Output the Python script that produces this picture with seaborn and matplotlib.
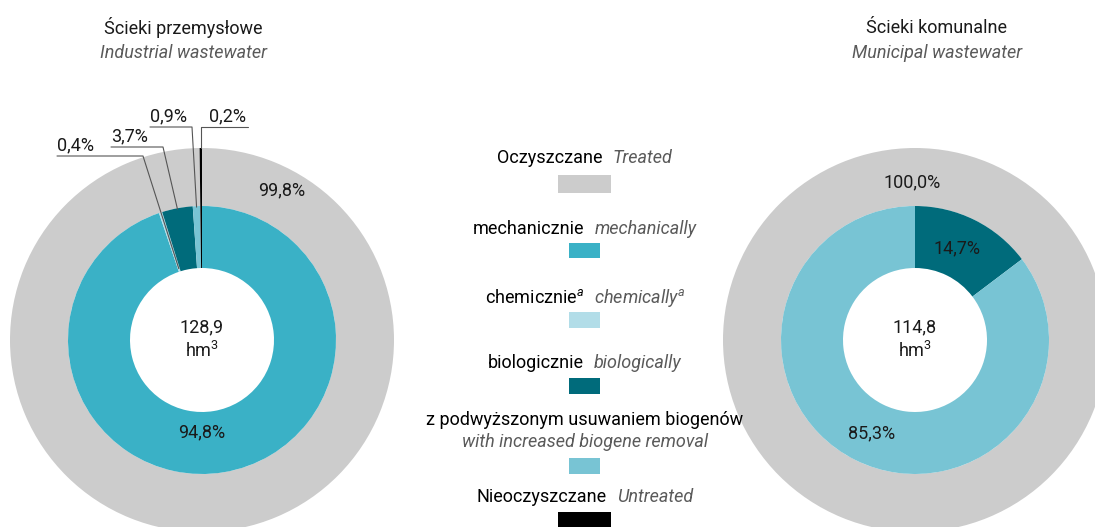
import numpy as np
import matplotlib
matplotlib.use("Agg")
import matplotlib.pyplot as plt
import seaborn as sns
from matplotlib.patches import Rectangle

sns.set_theme(style="white")
plt.rcParams["font.family"] = ["Roboto", "DejaVu Sans"]
plt.rcParams["mathtext.fontset"] = "custom"
plt.rcParams["mathtext.rm"] = "Roboto"
plt.rcParams["mathtext.it"] = "Roboto:italic"

# data
categories = ["mechanicznie", "chemicznie", "biologicznie", "z podwyższonym usuwaniem biogenów", "Nieoczyszczane"]
outer_labels = ["Oczyszczane", "Nieoczyszczane"]
industrial_outer = [99.8, 0.2]
industrial_inner = [94.8, 0.4, 3.7, 0.9, 0.2]
municipal_outer = [100.0, 0.0]
municipal_inner = [0.0, 0.0, 14.7, 85.3, 0.0]
industrial_total = "128,9"
municipal_total = "114,8"

GRAY = "#cccccc"
INNER_COLORS = ["#3ab1c6", "#b2dde8", "#006b7b", "#78c4d4", "#000000"]
OUTER_COLORS = [GRAY, "#000000"]
TXT = "#1a1a1a"
SUB = "#5a5a5a"
FS = 13

W, H = 1095, 527
fig = plt.figure(figsize=(W / 100, H / 100), dpi=100)

R_OUT = 192
R_MID = 134
R_IN = 72


def fmt(v):
    return f"{v:.1f}%".replace(".", ",")


def donut(cx, cy, outer, inner, total):
    ax = fig.add_axes([(cx - R_OUT) / W, (H - cy - R_OUT) / H, 2 * R_OUT / W, 2 * R_OUT / H])
    ow, _ = ax.pie(outer, radius=1, colors=OUTER_COLORS, startangle=90, counterclock=False,
                   wedgeprops=dict(width=(R_OUT - R_MID) / R_OUT, linewidth=0))
    iw, _ = ax.pie(inner, radius=R_MID / R_OUT, colors=INNER_COLORS, startangle=90, counterclock=False,
                   wedgeprops=dict(width=(R_MID - R_IN) / R_OUT, linewidth=0))
    ax.set_xlim(-1, 1)
    ax.set_ylim(-1, 1)
    ax.axis("off")
    for w in ow + iw:
        w.set_clip_on(False)
    ax.text(0, 0, f"{total}\nhm$^{{3}}$", ha="center", va="center", fontsize=FS, color=TXT, linespacing=1.3)
    return ax, ow, iw


def px(ax_cx, ax_cy, x, y):
    return (x - ax_cx) / R_OUT, (ax_cy - y) / R_OUT


def wedge_point(w, r):
    a = np.deg2rad((w.theta1 + w.theta2) / 2)
    return r / R_OUT * np.cos(a), r / R_OUT * np.sin(a)


# left donut
LCX, LCY = 202, 340
axL, owL, iwL = donut(LCX, LCY, industrial_outer, industrial_inner, industrial_total)
axL.text(*px(LCX, LCY, 282, 190), fmt(industrial_outer[0]), ha="center", va="center", fontsize=FS, color=TXT)
axL.text(*px(LCX, LCY, 202, 432), fmt(industrial_inner[0]), ha="center", va="center", fontsize=FS, color=TXT)

# leader labels: (wedge, end radius, value, label x-left, line y, line start x, elbow x)
leaders = [
    (iwL[1], 75, industrial_inner[1], 57, 156, 57, 143),
    (iwL[2], 133, industrial_inner[2], 111, 147, 111, 163),
    (iwL[3], 133, industrial_inner[3], 150, 127, 150, 192),
]
for w, r, val, tx, ly, x0, x1 in leaders:
    ex, ey = wedge_point(w, r)
    p0 = px(LCX, LCY, x0, ly)
    p1 = px(LCX, LCY, x1, ly)
    axL.plot([p0[0], p1[0], ex], [p0[1], p1[1], ey], color="#555555", lw=0.8, clip_on=False)
    axL.text(*px(LCX, LCY, tx, ly - 2), fmt(val), ha="left", va="bottom", fontsize=FS, color=TXT)

# untreated leader
ex, ey = wedge_point(owL[1], R_OUT)
p0 = px(LCX, LCY, 248, 127)
axL.plot([p0[0], ex, ex], [p0[1], p0[1], ey], color="#555555", lw=0.8, clip_on=False)
axL.text(*px(LCX, LCY, 209, 125), fmt(industrial_outer[1]), ha="left", va="bottom", fontsize=FS, color=TXT)

# right donut
RCX, RCY = 915, 340
axR, owR, iwR = donut(RCX, RCY, municipal_outer, municipal_inner, municipal_total)
axR.text(*px(RCX, RCY, 912, 182), fmt(municipal_outer[0]), ha="center", va="center", fontsize=FS, color=TXT)
axR.text(*px(RCX, RCY, 957, 248), fmt(municipal_inner[2]), ha="center", va="center", fontsize=FS, color=TXT)
axR.text(*px(RCX, RCY, 872, 433), fmt(municipal_inner[3]), ha="center", va="center", fontsize=FS, color=TXT)

# overlay in pixel coordinates for titles and legend
ov = fig.add_axes([0, 0, 1, 1], zorder=5)
ov.set_xlim(0, W)
ov.set_ylim(H, 0)
ov.axis("off")
ov.patch.set_alpha(0)

ov.text(183, 28, "Ścieki przemysłowe", ha="center", va="center", fontsize=FS, color=TXT)
ov.text(183, 53, "Industrial wastewater", ha="center", va="center", fontsize=FS, color=SUB, style="italic")
ov.text(937, 28, "Ścieki komunalne", ha="center", va="center", fontsize=FS, color=TXT)
ov.text(937, 53, "Municipal wastewater", ha="center", va="center", fontsize=FS, color=SUB, style="italic")

renderer = fig.canvas.get_renderer()
LEGX = 585


def pair(y, left, right, gap=10):
    t1 = ov.text(0, y, left, ha="left", va="center", fontsize=FS, color="#000000")
    t2 = ov.text(0, y, right, ha="left", va="center", fontsize=FS, color=SUB, style="italic")
    w1 = t1.get_window_extent(renderer).width
    w2 = t2.get_window_extent(renderer).width
    x0 = LEGX - (w1 + gap + w2) / 2
    t1.set_x(x0)
    t2.set_x(x0 + w1 + gap)


legend_rows = [
    (158, "Oczyszczane", "Treated", GRAY, 175, 53, 18),
    (229, "mechanicznie", "mechanically", INNER_COLORS[0], 243, 31, 15),
    (298, "chemicznie$^{a}$", "chemically$^{a}$", INNER_COLORS[1], 312, 31, 16),
    (363, "biologicznie", "biologically", INNER_COLORS[2], 378, 31, 16),
    (None, None, None, INNER_COLORS[3], 458, 31, 16),
    (497, "Nieoczyszczane", "Untreated", "#000000", 512, 53, 18),
]
for y, a, b, c, sy, sw, sh in legend_rows:
    if y is not None:
        pair(y, a, b)
    ov.add_patch(Rectangle((LEGX - sw / 2 - 0.5, sy), sw, sh, color=c, lw=0, clip_on=False))

ov.text(LEGX, 420, "z podwyższonym usuwaniem biogenów", ha="center", va="center", fontsize=FS, color="#000000")
ov.text(LEGX, 442, "with increased biogene removal", ha="center", va="center", fontsize=FS, color=SUB, style="italic")

fig.savefig("out.png", dpi=100)
